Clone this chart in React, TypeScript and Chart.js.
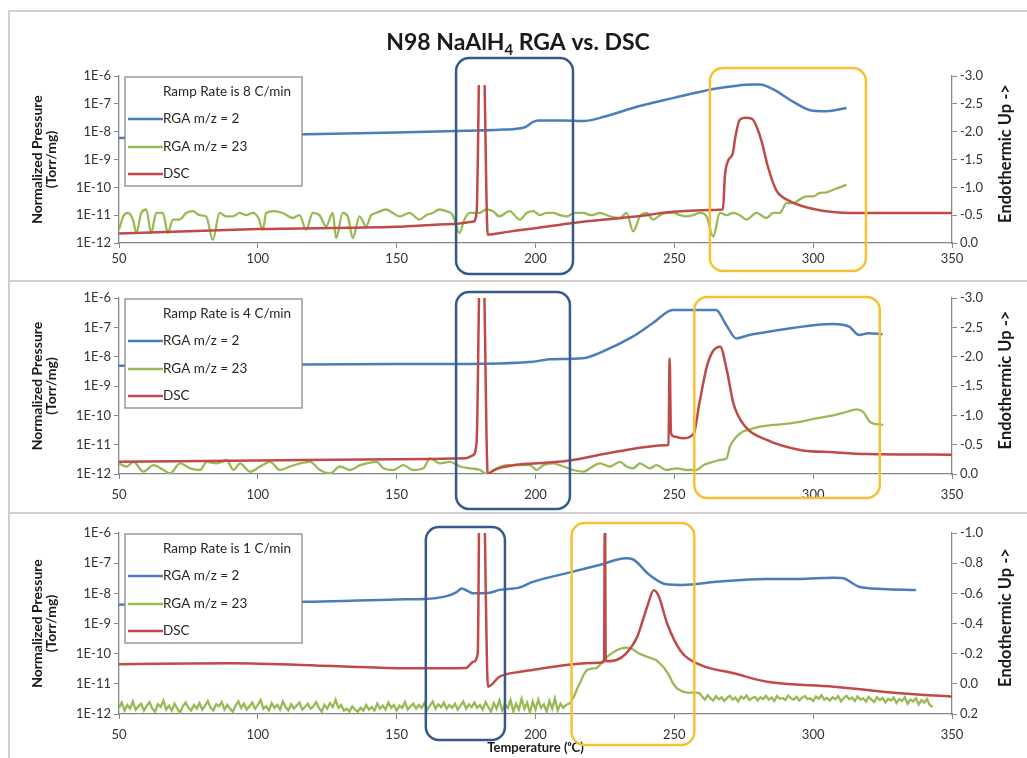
import React, { useEffect, useRef } from 'react';
import { Chart, registerables } from 'chart.js';

Chart.register(...registerables);
Chart.defaults.font.family = 'Lato, "Open Sans", sans-serif';
Chart.defaults.color = '#333333';

// ---------- text ----------
const titleParts = ['N98 NaAlH', '4', ' RGA vs. DSC'];
const xAxisTitle = 'Temperature (\u1D52C)';
const leftAxisTitle = ['Normalized Pressure', '(Torr/mg)'];
const rightAxisTitle = 'Endothermic Up ->';
const seriesLabels = ['RGA m/z = 2', 'RGA m/z = 23', 'DSC'];
const seriesColors = ['#4A7EBB', '#98B954', '#BE4B48'];
const rampLabels = ['Ramp Rate is 8 C/min', 'Ramp Rate is 4 C/min', 'Ramp Rate is 1 C/min'];

// ---------- axes ----------
const xMin = 50;
const xMax = 350;
const xStep = 50;
const logTicks = [1e-12, 1e-11, 1e-10, 1e-9, 1e-8, 1e-7, 1e-6];

// ---------- Panel 1 : 8 C/min ----------
const p1H2T = [50, 100, 150, 175, 187, 194, 196.5, 199, 201, 210, 217, 225, 235, 249.5, 264, 272.5, 278, 281, 284, 287, 292.7, 300, 305, 312];
const p1H2 = [5.9e-9, 7.4e-9, 9.4e-9, 1.08e-8, 1.17e-8, 1.3e-8, 1.5e-8, 2.2e-8, 2.5e-8, 2.5e-8, 2.4e-8, 3.5e-8, 7.1e-8, 1.6e-7, 3.4e-7, 4.5e-7, 4.9e-7, 4.9e-7, 4.0e-7, 2.8e-7, 1.2e-7, 5.6e-8, 5.4e-8, 7.1e-8];
const p1NaT = [50, 51.5, 53.3, 55, 56.3, 58, 59.8, 61.6, 63.4, 65.8, 67.6, 69.4, 71.8, 74.2, 76.6, 79, 81.4, 83.8, 86.2, 88.6, 91, 93.4, 95.8, 98.2, 100.2, 101.8, 103, 106, 109, 112.6, 115, 117.4, 119.8, 122.2, 124.6, 127, 128.2, 130.6, 132.4, 134.2, 136.6, 139, 140.8, 142.6, 146.2, 148.6, 151, 154.6, 158.2, 160.6, 163, 165.4, 167.8, 170.2, 172.6, 174.4, 176.2, 179.8, 182.2, 184.6, 187, 190.6, 194.4, 196.8, 199.2, 201.6, 204, 206.4, 208.8, 211.2, 214, 217.2, 220.2, 223.2, 226.8, 230.4, 232.8, 235.2, 237.6, 240, 242.4, 244.8, 247.2, 249.6, 252, 254.4, 256.8, 259.2, 261.6, 264, 266.4, 268.8, 271.2, 273.6, 276, 279.6, 283.2, 285.6, 288, 290.4, 292.8, 295.2, 297.6, 300, 302.4, 304.8, 307.2, 309.6, 312];
const p1Na = [3.0e-12, 9.0e-12, 1.2e-11, 6.9e-12, 2.3e-12, 1.2e-11, 1.6e-11, 2.3e-12, 1.2e-11, 1.2e-11, 2.3e-12, 6.9e-12, 6.9e-12, 1.2e-11, 1.4e-11, 1.0e-11, 9.0e-12, 1.3e-12, 1.2e-11, 9.0e-12, 9.0e-12, 1.2e-11, 1.0e-11, 1.2e-11, 7.9e-12, 3.0e-12, 1.2e-11, 1.4e-11, 1.2e-11, 7.9e-12, 1.0e-11, 3.0e-12, 1.2e-11, 1.0e-11, 4.0e-12, 1.2e-11, 1.5e-12, 1.2e-11, 9.0e-12, 1.5e-12, 9.0e-12, 4.0e-12, 1.0e-11, 1.2e-11, 1.6e-11, 1.2e-11, 9.0e-12, 1.2e-11, 6.9e-12, 1.0e-11, 1.2e-11, 1.6e-11, 1.4e-11, 1.0e-11, 2.3e-12, 6.9e-12, 1.2e-11, 1.2e-11, 1.6e-11, 1.4e-11, 9.0e-12, 1.4e-11, 6.9e-12, 1.2e-11, 1.4e-11, 1.0e-11, 1.2e-11, 1.2e-11, 1.0e-11, 9.0e-12, 1.2e-11, 1.2e-11, 1.0e-11, 1.2e-11, 9.0e-12, 7.9e-12, 1.2e-11, 2.6e-12, 9.0e-12, 1.2e-11, 6.9e-12, 1.0e-11, 1.2e-11, 1.2e-11, 1.0e-11, 9.0e-12, 1.0e-11, 1.2e-11, 9.0e-12, 1.7e-12, 1.2e-11, 1.0e-11, 1.2e-11, 1.0e-11, 6.9e-12, 1.2e-11, 7.9e-12, 1.2e-11, 1.2e-11, 2.7e-11, 2.7e-11, 3.7e-11, 4.7e-11, 4.7e-11, 6.3e-11, 6.6e-11, 8.2e-11, 1.0e-10, 1.24e-10];
const p1DscT = [50, 100, 150, 170, 177.5, 178.8, 180.0, 181.2, 182.8, 185, 190, 194, 200.5, 213.5, 235, 249.5, 260, 267.5, 268.2, 269.5, 271, 272, 273.5, 275.5, 278, 281.3, 283.7, 286.7, 290.9, 299.3, 309, 318.5, 350];
const p1Dsc = [-0.17, -0.25, -0.29, -0.34, -0.38, -0.55, -3.6, -3.6, -0.15, -0.16, -0.2, -0.23, -0.27, -0.36, -0.47, -0.56, -0.59, -0.6, -1.2, -1.49, -1.6, -1.91, -2.21, -2.25, -2.23, -1.85, -1.37, -0.95, -0.77, -0.62, -0.55, -0.54, -0.54];

// ---------- Panel 2 : 4 C/min ----------
const p2H2T = [50, 100, 150, 187, 199, 205, 217, 225.5, 235, 242.3, 249.5, 265, 268.7, 272.3, 277, 285.5, 301, 307, 313, 316.5, 320, 325];
const p2H2 = [4.9e-9, 5.3e-9, 5.6e-9, 5.9e-9, 6.7e-9, 8.1e-9, 8.8e-9, 1.7e-8, 4.8e-8, 1.4e-7, 3.9e-7, 3.9e-7, 1.2e-7, 4.2e-8, 5.5e-8, 7.5e-8, 1.2e-7, 1.3e-7, 1.05e-7, 5.5e-8, 6.3e-8, 5.8e-8];
const p2NaT = [50, 52.8, 55.2, 58.8, 62.4, 66, 68.4, 72, 75.6, 79.2, 81.6, 85.2, 88.8, 91.2, 93.6, 97.2, 100.8, 104.4, 108, 111.6, 115.2, 118.8, 122.4, 126, 129.6, 133.2, 136.8, 139.2, 142.8, 145.2, 148.8, 152.4, 156, 159.6, 162, 165.6, 169.2, 172.8, 176.4, 180, 182.4, 186, 189.6, 194.4, 198, 200.4, 202.8, 206.4, 210, 213.6, 217.2, 219.6, 223.2, 226.8, 230.4, 232.8, 235.2, 237.6, 241.2, 243.6, 247.2, 250.8, 254.4, 258, 260.4, 264, 266.4, 268.8, 270, 273.6, 277.2, 280.8, 285.6, 289.2, 295.2, 301.2, 307.2, 312, 315.6, 318, 320.4, 322.8, 325.2];
const p2Na = [2.3e-12, 1.8e-12, 2.6e-12, 1.2e-12, 2.0e-12, 1.37e-12, 1.05e-12, 2.3e-12, 1.56e-12, 1.37e-12, 2.6e-12, 2.3e-12, 3.0e-12, 1.37e-12, 2.3e-12, 1.2e-12, 1.8e-12, 2.6e-12, 1.37e-12, 1.8e-12, 2.3e-12, 2.6e-12, 1.37e-12, 1.05e-12, 1.8e-12, 1.37e-12, 2.0e-12, 2.3e-12, 2.6e-12, 1.56e-12, 1.37e-12, 2.0e-12, 1.37e-12, 1.56e-12, 3.4e-12, 2.3e-12, 2.6e-12, 1.8e-12, 1.56e-12, 1.37e-12, 1.0e-12, 1.56e-12, 2.0e-12, 2.0e-12, 2.0e-12, 1.37e-12, 2.0e-12, 2.3e-12, 1.8e-12, 1.37e-12, 1.2e-12, 1.56e-12, 2.3e-12, 1.8e-12, 2.6e-12, 1.8e-12, 1.56e-12, 2.3e-12, 1.56e-12, 2.0e-12, 1.37e-12, 1.56e-12, 1.37e-12, 1.37e-12, 2.0e-12, 2.6e-12, 3.0e-12, 3.4e-12, 8.5e-12, 2.4e-11, 3.3e-11, 4.1e-11, 4.7e-11, 5.0e-11, 6.0e-11, 7.9e-11, 1.0e-10, 1.3e-10, 1.6e-10, 1.3e-10, 6.0e-11, 5.0e-11, 4.7e-11];
const p2DscT = [50, 100, 150, 175, 177.5, 178.8, 180.0, 181.2, 182.8, 184.5, 187, 192, 199, 211, 229, 247, 247.9, 248.3, 248.8, 249.8, 253, 257, 259, 261.7, 264, 266.5, 268.9, 271.3, 275, 283.3, 295.3, 307.3, 319.3, 350];
const p2Dsc = [-0.21, -0.23, -0.25, -0.27, -0.32, -0.55, -3.6, -3.6, 0.0, -0.05, -0.1, -0.15, -0.18, -0.22, -0.38, -0.49, -0.5, -1.97, -0.7, -0.64, -0.61, -0.69, -1.2, -1.83, -2.1, -2.17, -1.77, -1.2, -0.84, -0.58, -0.41, -0.37, -0.34, -0.33];

// ---------- Panel 3 : 1 C/min ----------
const p3H2T = [50, 55, 80, 120, 150, 160, 168, 171.6, 173.4, 175.5, 177.5, 183.5, 187, 194, 199, 211, 223, 232.6, 235, 241, 247, 253, 265, 283, 295, 307, 310.5, 316.5, 325, 337];
const p3H2 = [4.2e-9, 4.4e-9, 5.2e-9, 5.3e-9, 6.3e-9, 6.5e-9, 8.1e-9, 1.1e-8, 1.45e-8, 1.2e-8, 1.0e-8, 1.05e-8, 1.3e-8, 1.55e-8, 2.4e-8, 4.6e-8, 8.7e-8, 1.45e-7, 1.35e-7, 4.1e-8, 2.0e-8, 1.9e-8, 2.4e-8, 3.0e-8, 3.0e-8, 3.3e-8, 3.2e-8, 1.66e-8, 1.4e-8, 1.3e-8];
const p3NaT = [
  50, 51, 52, 53, 54, 55, 56, 57, 58, 59, 60, 61, 62, 63, 64, 65, 66, 67, 68, 69,
  70, 71, 72, 73, 74, 75, 76, 77, 78, 79, 80, 81, 82, 83, 84, 85, 86, 87, 88, 89,
  90, 91, 92, 93, 94, 95, 96, 97, 98, 99, 100, 101, 102, 103, 104, 105, 106, 107, 108, 109,
  110, 111, 112, 113, 114, 115, 116, 117, 118, 119, 120, 121, 122, 123, 124, 125, 126, 127, 128, 129,
  130, 131, 132, 133, 134, 135, 136, 137, 138, 139, 140, 141, 142, 143, 144, 145, 146, 147, 148, 149,
  150, 151, 152, 153, 154, 155, 156, 157, 158, 159, 160, 161, 162, 163, 164, 165, 166, 167, 168, 169,
  170, 171, 172, 173, 174, 175, 176, 177, 178, 179, 180, 181, 182, 183, 184, 185, 186, 187, 188, 189,
  190, 191, 192, 193, 194, 195, 196, 197, 198, 199, 200, 201, 202, 203, 204, 205, 206, 207, 208, 209,
  210, 211, 212.5, 214, 215, 216, 217.3, 218.5, 220, 222, 223.5, 224.5, 226.5, 229.2, 231, 232.6, 235, 237.4, 240, 243.4,
  246, 248, 249.5, 251, 253, 255, 257, 259,
  260, 261, 262, 263, 264, 265, 266, 267, 268, 269, 270, 271, 272, 273, 274, 275, 276, 277, 278, 279,
  280, 281, 282, 283, 284, 285, 286, 287, 288, 289, 290, 291, 292, 293, 294, 295, 296, 297, 298, 299,
  300, 301, 302, 303, 304, 305, 306, 307, 308, 309, 310, 311, 312, 313, 314, 315, 316, 317, 318, 319,
  320, 321, 322, 323, 324, 325, 326, 327, 328, 329, 330, 331, 332, 333, 334, 335, 336, 337, 338, 339,
  340, 341, 342, 343,
];
const p3Na = [
  1.6e-12, 2.4e-12, 1.3e-12, 2.0e-12, 1.5e-12, 2.6e-12, 1.4e-12, 1.8e-12, 2.2e-12, 1.3e-12, 1.9e-12, 2.5e-12, 1.5e-12, 1.2e-12, 2.1e-12, 1.7e-12, 2.8e-12, 1.4e-12, 1.9e-12, 1.3e-12,
  2.2e-12, 1.5e-12, 1.1e-12, 1.8e-12, 2.4e-12, 1.6e-12, 1.3e-12, 2.0e-12, 1.5e-12, 2.3e-12, 1.4e-12, 1.9e-12, 2.7e-12, 1.6e-12, 1.3e-12, 2.1e-12, 1.8e-12, 2.5e-12, 1.4e-12, 2.0e-12,
  1.5e-12, 1.2e-12, 1.9e-12, 2.6e-12, 1.6e-12, 2.2e-12, 1.4e-12, 1.8e-12, 2.4e-12, 1.5e-12, 2.0e-12, 2.9e-12, 1.5e-12, 1.8e-12, 1.3e-12, 2.3e-12, 1.6e-12, 2.0e-12, 1.4e-12, 2.6e-12,
  1.7e-12, 1.3e-12, 2.1e-12, 1.5e-12, 1.9e-12, 2.4e-12, 1.4e-12, 1.7e-12, 2.2e-12, 1.5e-12, 1.8e-12, 2.5e-12, 1.6e-12, 1.2e-12, 2.0e-12, 1.5e-12, 2.3e-12, 1.7e-12, 3.0e-12, 1.6e-12,
  2.0e-12, 1.3e-12, 1.5e-12, 1.2e-12, 1.8e-12, 1.4e-12, 1.2e-12, 1.6e-12, 1.3e-12, 2.0e-12, 1.4e-12, 1.7e-12, 1.3e-12, 2.2e-12, 1.5e-12, 1.9e-12, 1.4e-12, 2.4e-12, 1.6e-12, 2.0e-12,
  1.3e-12, 1.9e-12, 1.6e-12, 2.5e-12, 1.4e-12, 1.8e-12, 2.2e-12, 1.5e-12, 2.0e-12, 1.6e-12, 2.3e-12, 1.4e-12, 1.9e-12, 2.6e-12, 1.5e-12, 2.1e-12, 1.7e-12, 2.4e-12, 1.5e-12, 2.0e-12,
  1.6e-12, 2.2e-12, 1.4e-12, 1.9e-12, 2.6e-12, 1.5e-12, 2.1e-12, 1.7e-12, 2.4e-12, 1.6e-12, 2.0e-12, 1.4e-12, 2.5e-12, 1.7e-12, 1.2e-12, 2.3e-12, 1.5e-12, 2.8e-12, 1.3e-12, 2.1e-12,
  1.6e-12, 2.9e-12, 1.2e-12, 2.2e-12, 1.4e-12, 3.2e-12, 1.5e-12, 2.4e-12, 1.1e-12, 2.6e-12, 1.4e-12, 3.0e-12, 1.6e-12, 2.1e-12, 1.2e-12, 2.7e-12, 1.5e-12, 3.3e-12, 1.3e-12, 2.2e-12,
  1.6e-12, 2.0e-12, 2.3e-12, 4.0e-12, 7.0e-12, 1.04e-11, 2.0e-11, 2.9e-11, 3.2e-11, 3.3e-11, 4.5e-11, 6.2e-11, 9.0e-11, 1.3e-10, 1.5e-10, 1.6e-10, 1.4e-10, 1.0e-10, 8.0e-11, 6.2e-11,
  3.7e-11, 2.0e-11, 1.04e-11, 7.0e-12, 5.5e-12, 5.0e-12, 5.2e-12, 4.9e-12,
  3.8e-12, 3.0e-12, 4.2e-12, 3.3e-12, 2.8e-12, 3.9e-12, 3.1e-12, 3.6e-12, 2.7e-12, 3.4e-12, 4.0e-12, 3.0e-12, 3.5e-12, 2.6e-12, 3.8e-12, 3.2e-12, 4.1e-12, 2.9e-12, 3.4e-12, 3.7e-12,
  2.8e-12, 3.6e-12, 3.1e-12, 4.0e-12, 3.0e-12, 3.5e-12, 2.7e-12, 3.9e-12, 3.2e-12, 3.4e-12, 2.9e-12, 4.1e-12, 3.3e-12, 3.0e-12, 3.7e-12, 2.8e-12, 3.5e-12, 3.9e-12, 3.1e-12, 3.3e-12,
  2.7e-12, 3.8e-12, 3.2e-12, 4.2e-12, 3.0e-12, 3.4e-12, 2.8e-12, 3.6e-12, 3.1e-12, 3.9e-12, 2.6e-12, 3.4e-12, 4.0e-12, 3.1e-12, 3.5e-12, 2.7e-12, 3.8e-12, 3.0e-12, 3.3e-12, 2.6e-12,
  3.7e-12, 3.0e-12, 2.5e-12, 3.6e-12, 2.9e-12, 3.4e-12, 2.4e-12, 3.2e-12, 2.8e-12, 3.5e-12, 2.3e-12, 3.1e-12, 2.7e-12, 3.6e-12, 2.2e-12, 3.0e-12, 2.6e-12, 3.3e-12, 2.1e-12, 2.9e-12,
  2.4e-12, 3.1e-12, 2.0e-12, 1.7e-12,
];
const p3DscT = [50, 90, 127, 154, 175, 177.6, 179.2, 180.0, 181.0, 182.9, 187, 194.4, 199, 211, 223, 224.7, 225.0, 225.3, 229.2, 232.6, 236.6, 240.2, 242.6, 244.4, 247.4, 252.2, 259.4, 271.4, 283.4, 307.4, 331.4, 350];
const p3Dsc = [-0.13, -0.136, -0.118, -0.103, -0.105, -0.147, -0.2, -1.6, -1.6, 0.019, -0.047, -0.08, -0.092, -0.125, -0.14, -0.145, -1.3, -0.15, -0.158, -0.2, -0.31, -0.51, -0.62, -0.58, -0.40, -0.22, -0.125, -0.07, -0.014, 0.019, 0.063, 0.085];

// right axis ranges [top, bottom, step]
const p1DscAxis = [-3.0, 0.0, 0.5];
const p2DscAxis = [-3.0, 0.0, 0.5];
const p3DscAxis = [-1.0, 0.2, 0.2];

type Box = { from: number; to: number; top: number; bottom: number; color: string };
const BLUE_BOX = '#34598A';
const GOLD_BOX = '#F7C030';

type Panel = {
  ramp: string;
  h2T: number[]; h2: number[];
  naT: number[]; na: number[];
  dscT: number[]; dsc: number[];
  dscAxis: number[];
  top: number; height: number; padTop: number; xAxisH: number; xTickPad: number;
  showTitle: boolean; showXTitle: boolean; dscClipTop: number; smoothNa: boolean;
  boxes: Box[];
};

const panels: Panel[] = [
  {
    ramp: rampLabels[0], h2T: p1H2T, h2: p1H2, naT: p1NaT, na: p1Na, dscT: p1DscT, dsc: p1Dsc, dscAxis: p1DscAxis,
    top: 11, height: 270, padTop: 65, xAxisH: 38, xTickPad: 3, showTitle: true, showXTitle: false, dscClipTop: -9, smoothNa: true,
    boxes: [
      { from: 171.4, to: 213.5, top: -18, bottom: 31, color: BLUE_BOX },
      { from: 262.8, to: 319, top: -8, bottom: 28, color: GOLD_BOX },
    ],
  },
  {
    ramp: rampLabels[1], h2T: p2H2T, h2: p2H2, naT: p2NaT, na: p2Na, dscT: p2DscT, dsc: p2Dsc, dscAxis: p2DscAxis,
    top: 281, height: 232, padTop: 17, xAxisH: 39, xTickPad: 8, showTitle: false, showXTitle: false, dscClipTop: 0, smoothNa: true,
    boxes: [
      { from: 171.4, to: 212.4, top: -6, bottom: 35, color: BLUE_BOX },
      { from: 257.2, to: 324, top: -1, bottom: 24, color: GOLD_BOX },
    ],
  },
  {
    ramp: rampLabels[2], h2T: p3H2T, h2: p3H2, naT: p3NaT, na: p3Na, dscT: p3DscT, dsc: p3Dsc, dscAxis: p3DscAxis,
    top: 513, height: 245, padTop: 20, xAxisH: 44, xTickPad: 8, showTitle: false, showXTitle: true, dscClipTop: 0, smoothNa: false,
    boxes: [
      { from: 160.5, to: 189, top: -6, bottom: 26, color: BLUE_BOX },
      { from: 213, to: 257.2, top: -10, bottom: 31, color: GOLD_BOX },
    ],
  },
];

const zip = (xs: number[], ys: number[]) => xs.map((x, i) => ({ x, y: ys[i] }));

function roundRectPath(ctx: CanvasRenderingContext2D, x: number, y: number, w: number, h: number, r: number) {
  ctx.beginPath();
  ctx.moveTo(x + r, y);
  ctx.arcTo(x + w, y, x + w, y + h, r);
  ctx.arcTo(x + w, y + h, x, y + h, r);
  ctx.arcTo(x, y + h, x, y, r);
  ctx.arcTo(x, y, x + w, y, r);
  ctx.closePath();
}

function makeOverlay(p: Panel) {
  return {
    id: 'overlay',
    afterDraw(chart: any) {
      const { ctx, chartArea: ca, scales } = chart;
      ctx.save();
      // legend box
      const lx = ca.left + 6, ly = ca.top + 1, lw = 177, lh = 109;
      const rows = [15, 42, 70, 97];
      ctx.fillStyle = '#ffffff';
      ctx.fillRect(lx, ly, lw, lh);
      ctx.strokeStyle = '#8a8a8a';
      ctx.lineWidth = 1.3;
      ctx.strokeRect(lx, ly, lw, lh);
      ctx.font = '13.5px Lato, "Open Sans", sans-serif';
      ctx.fillStyle = '#262626';
      ctx.textBaseline = 'middle';
      ctx.textAlign = 'left';
      ctx.fillText(p.ramp, lx + 38, ly + rows[0]);
      chart.data.datasets.forEach((ds: any, i: number) => {
        const y = ly + rows[i + 1];
        ctx.strokeStyle = ds.borderColor;
        ctx.lineWidth = 2.5;
        ctx.beginPath();
        ctx.moveTo(lx + 3, y);
        ctx.lineTo(lx + 38, y);
        ctx.stroke();
        ctx.fillText(ds.label, lx + 38, y);
      });
      // right axis title
      ctx.save();
      ctx.translate(1006, (ca.top + ca.bottom) / 2 - 6);
      ctx.rotate(-Math.PI / 2);
      ctx.textAlign = 'center';
      ctx.font = 'bold 16.5px Lato, "Open Sans", sans-serif';
      ctx.fillStyle = '#1a1a1a';
      ctx.fillText(rightAxisTitle, 0, 0);
      ctx.restore();
      // chart title with subscript
      if (p.showTitle) {
        const big = 'bold 23px Lato, "Open Sans", sans-serif';
        const small = 'bold 15px Lato, "Open Sans", sans-serif';
        ctx.font = big;
        const w0 = ctx.measureText(titleParts[0]).width;
        const w2 = ctx.measureText(titleParts[2]).width;
        ctx.font = small;
        const w1 = ctx.measureText(titleParts[1]).width;
        const total = w0 + w1 + w2;
        let x = 518 - total / 2;
        const y = 32;
        ctx.fillStyle = '#1a1a1a';
        ctx.textAlign = 'left';
        ctx.textBaseline = 'middle';
        ctx.font = big;
        ctx.fillText(titleParts[0], x, y);
        x += w0;
        ctx.font = small;
        ctx.fillText(titleParts[1], x, y + 7);
        x += w1;
        ctx.font = big;
        ctx.fillText(titleParts[2], x, y);
      }
      // highlight boxes
      p.boxes.forEach((b) => {
        const x1 = scales.x.getPixelForValue(b.from);
        const x2 = scales.x.getPixelForValue(b.to);
        const y1 = ca.top + b.top;
        const y2 = ca.bottom + b.bottom;
        ctx.strokeStyle = b.color;
        ctx.lineWidth = 2.5;
        roundRectPath(ctx, x1, y1, x2 - x1, y2 - y1, 13);
        ctx.stroke();
      });
      ctx.restore();
    },
  };
}

function PanelChart({ p }: { p: Panel }) {
  const ref = useRef<HTMLCanvasElement>(null);
  useEffect(() => {
    if (!ref.current) return;
    const gridCommon = { display: true, drawOnChartArea: false, drawTicks: true, tickLength: 5, color: '#868686', lineWidth: 1 };
    const borderCommon = { display: true, color: '#868686', width: 1.3 };
    const tickFont = { size: 13 };
    const naStyle = p.smoothNa ? { cubicInterpolationMode: 'monotone' } : { tension: 0 };
    const chart = new Chart(ref.current, {
      type: 'line',
      data: {
        datasets: [
          { label: seriesLabels[0], data: zip(p.h2T, p.h2), yAxisID: 'y', borderColor: seriesColors[0], backgroundColor: seriesColors[0], borderWidth: 2.5, pointRadius: 0, cubicInterpolationMode: 'monotone', order: 3 },
          { label: seriesLabels[1], data: zip(p.naT, p.na), yAxisID: 'y', borderColor: seriesColors[1], backgroundColor: seriesColors[1], borderWidth: 2.3, pointRadius: 0, ...naStyle, order: 2 },
          { label: seriesLabels[2], data: zip(p.dscT, p.dsc), yAxisID: 'y2', borderColor: seriesColors[2], backgroundColor: seriesColors[2], borderWidth: 2.5, pointRadius: 0, cubicInterpolationMode: 'monotone', order: 1, clip: { left: 0, right: 0, bottom: 0, top: p.dscClipTop } },
        ] as any,
      },
      options: {
        animation: false,
        responsive: false,
        devicePixelRatio: 1,
        events: [],
        layout: { padding: { left: 30, right: 0, top: p.padTop, bottom: 0 } },
        plugins: { legend: { display: false }, title: { display: false }, tooltip: { enabled: false } },
        scales: {
          x: {
            type: 'linear', min: xMin, max: xMax,
            ticks: { stepSize: xStep, font: tickFont, padding: p.xTickPad, color: '#333333', maxRotation: 0 },
            grid: gridCommon as any, border: borderCommon as any,
            title: { display: p.showXTitle, text: xAxisTitle, font: { size: 13, weight: 'bold' }, color: '#1a1a1a', padding: { top: 0, bottom: 2 } },
            afterFit: (s: any) => { s.height = p.xAxisH; },
          },
          y: {
            type: 'logarithmic', position: 'left', min: logTicks[0], max: logTicks[logTicks.length - 1],
            afterBuildTicks: (s: any) => { s.ticks = logTicks.map((v) => ({ value: v })); },
            ticks: { font: tickFont, padding: 3, color: '#333333', callback: (v: any) => '1E' + Math.round(Math.log10(Number(v))) },
            grid: gridCommon as any, border: borderCommon as any,
            title: { display: true, text: leftAxisTitle, font: { size: 14, weight: 'bold', lineHeight: 1.0 }, color: '#1a1a1a', padding: { top: 0, bottom: 0 } },
            afterFit: (s: any) => { s.width = 89; },
          },
          y2: {
            type: 'linear', position: 'right', reverse: true, min: p.dscAxis[0], max: p.dscAxis[1],
            ticks: { stepSize: p.dscAxis[2], font: tickFont, padding: 3, color: '#333333', callback: (v: any) => { const r = Math.round(Number(v) * 10) / 10; return (r === 0 ? 0 : r).toFixed(1); } },
            grid: gridCommon as any, border: borderCommon as any,
            afterFit: (s: any) => { s.width = 75; },
          },
        },
      } as any,
      plugins: [makeOverlay(p)],
    });
    return () => chart.destroy();
  }, [p]);
  return (
    <canvas
      ref={ref}
      width={1027}
      height={p.height}
      style={{ position: 'absolute', left: 0, top: p.top, width: 1027, height: p.height }}
    />
  );
}

export default function App() {
  const line = '#d0d0d0';
  return (
    <div style={{ position: 'absolute', left: 0, top: 0, width: 1027, height: 758, background: '#ffffff', overflow: 'hidden' }}>
      <div style={{ position: 'absolute', left: 8, top: 10, width: 2, height: 748, background: line }} />
      <div style={{ position: 'absolute', left: 8, top: 10, width: 1019, height: 2, background: line }} />
      <div style={{ position: 'absolute', left: 8, top: 280, width: 1019, height: 2, background: line }} />
      <div style={{ position: 'absolute', left: 8, top: 512, width: 1019, height: 2, background: line }} />
      {panels.map((p, i) => (
        <PanelChart key={i} p={p} />
      ))}
    </div>
  );
}
